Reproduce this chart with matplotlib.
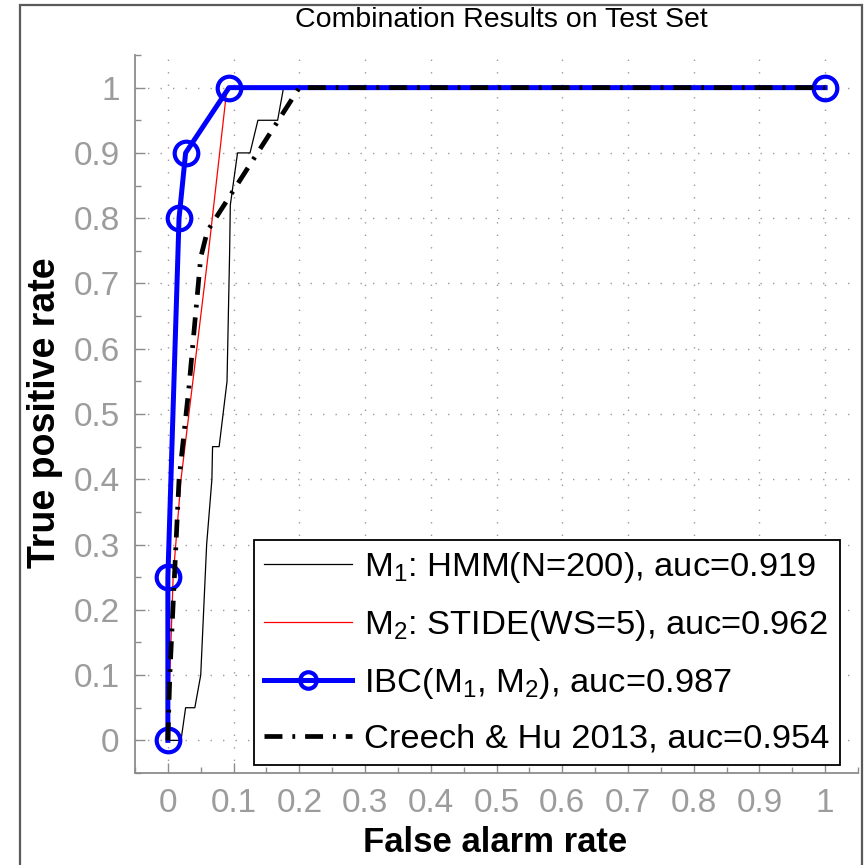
import numpy as np
import matplotlib
matplotlib.use("Agg")
import matplotlib.pyplot as plt
from matplotlib import font_manager
from matplotlib.ticker import MultipleLocator
from matplotlib.patches import Rectangle

# pick a narrow sans if there is one, else Liberation Sans
names = {f.name for f in font_manager.fontManager.ttflist}
if "Liberation Sans Narrow" in names:
    FONT, K = "Liberation Sans Narrow", 1.15
else:
    FONT, K = "Liberation Sans", 1.0

plt.rcParams["font.family"] = [FONT, "DejaVu Sans"]
plt.rcParams["mathtext.fontset"] = "custom"
plt.rcParams["mathtext.rm"] = FONT
plt.rcParams["mathtext.it"] = FONT

# ROC curves
m1_fpr = [0, 0.02, 0.027, 0.041, 0.05, 0.059, 0.067, 0.068, 0.078, 0.09, 0.094,
          0.095, 0.106, 0.125, 0.137, 0.167, 0.176, 1.0]
m1_tpr = [0, 0, 0.05, 0.05, 0.1, 0.3, 0.4, 0.45, 0.45, 0.55, 0.75,
          0.82, 0.9, 0.9, 0.95, 0.95, 1.0, 1.0]

m2_fpr = [0, 0.003, 0.008, 0.02, 0.062, 0.09, 1.0]
m2_tpr = [0, 0.1, 0.25, 0.4, 0.75, 1.0, 1.0]

ibc_fpr = [0, 0, 0.017, 0.027, 0.093, 1.0]
ibc_tpr = [0, 0.25, 0.8, 0.9, 1.0, 1.0]

creech_fpr = [0, 0.003, 0.009, 0.017, 0.032, 0.05, 0.06, 0.2, 1.0]
creech_tpr = [0, 0.1, 0.23, 0.4, 0.54, 0.74, 0.78, 1.0, 1.0]

labels = [r"$\mathrm{M}_1$: HMM(N=200), auc=0.919",
          r"$\mathrm{M}_2$: STIDE(WS=5), auc=0.962",
          r"IBC($\mathrm{M}_1$, $\mathrm{M}_2$), auc=0.987",
          "Creech & Hu 2013, auc=0.954"]

ticks = np.round(np.arange(0, 1.01, 0.1), 1)
tick_labels = ["0"] + ["%.1f" % t for t in ticks[1:-1]] + ["1"]

fig = plt.figure(figsize=(8.65, 8.65), dpi=100)
W = H = 865.0
ax = fig.add_axes([135 / W, 1 - 773 / H, (858 - 135) / W, (773 - 55) / H])

ax.plot(m1_fpr, m1_tpr, color="black", lw=0.9, label=labels[0])
ax.plot(m2_fpr, m2_tpr, color="red", lw=0.9, label=labels[1])
ax.plot(ibc_fpr, ibc_tpr, color="blue", lw=3.6, marker="o", ms=17,
        mfc="none", mec="blue", mew=3.0, label=labels[2])
ax.plot(creech_fpr, creech_tpr, color="black", lw=3.4,
        dashes=(3.8, 2.1, 0.6, 2.1), label=labels[3])

ax.set_xlim(-0.05, 1.05)
ax.set_ylim(-0.05, 1.05)
ax.set_xticks(ticks)
ax.set_yticks(ticks)
ax.set_xticklabels(tick_labels)
ax.set_yticklabels(tick_labels)
ax.xaxis.set_minor_locator(MultipleLocator(0.05))
ax.yaxis.set_minor_locator(MultipleLocator(0.05))

grey = "#8c8c8c"
ax.tick_params(which="both", direction="in", colors=grey, width=1.0,
               labelcolor="#9c9c9c", labelsize=24 * K, pad=11)
ax.tick_params(which="major", length=7)
ax.tick_params(which="minor", length=4)
for s in ("top", "right"):
    ax.spines[s].set_visible(False)
for s in ("left", "bottom"):
    ax.spines[s].set_color(grey)
    ax.spines[s].set_linewidth(1.3)

ax.grid(True, which="major", color="#9a9a9a", lw=1.0, linestyle=(0, (1, 8)))
ax.set_axisbelow(True)

leg = ax.legend(loc="lower right", bbox_to_anchor=(0.975, 0.011),
                borderaxespad=0, fontsize=24.8 * K, frameon=True, fancybox=False,
                framealpha=1, edgecolor="black", handlelength=2.55,
                handletextpad=0.35, borderpad=0.3, labelspacing=0.66,
                markerscale=0.7)
leg.get_frame().set_linewidth(1.3)

fig.text(501 / W, 1 - 20 / H, "Combination Results on Test Set",
         ha="center", va="center", fontsize=20.5 * K, color="black")
fig.text(495 / W, 1 - 843 / H, "False alarm rate", ha="center", va="center",
         fontsize=25 * K, fontweight="bold")
fig.text(45 / W, 1 - 413 / H, "True positive rate", ha="center", va="center",
         rotation=90, fontsize=27 * K, fontweight="bold")

# outer frame round the figure
fig.patches.append(Rectangle((20 / W, -0.01), (862 - 20) / W, 1 - 5 / H + 0.01,
                             transform=fig.transFigure, fill=False,
                             edgecolor="#5a5a5a", lw=1.6, zorder=10))

fig.savefig("out.png", dpi=100)
